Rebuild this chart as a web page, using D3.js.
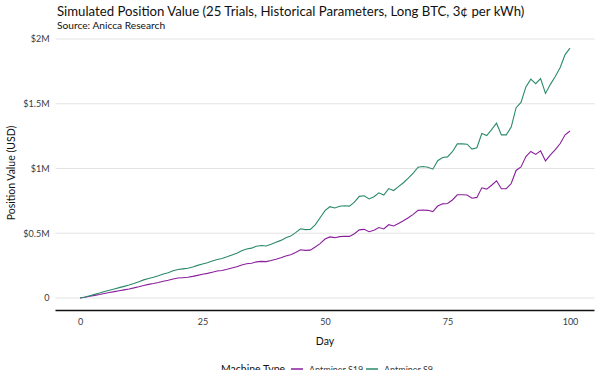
<!DOCTYPE html>
<html>
<head>
<meta charset="utf-8">
<script src="https://cdn.jsdelivr.net/npm/d3@7"></script>
<style>
  body { margin: 0; background: #fff; }
  svg { font-family: Lato, "Open Sans", sans-serif; }
</style>
</head>
<body>
<div id="chart"></div>
<script>
// values in millions of USD, one per day 0..100
var days = d3.range(0, 101);
var s9 = [
  0, 0.008, 0.018, 0.028, 0.038, 0.050, 0.060, 0.070, 0.080, 0.090,
  0.100, 0.112, 0.125, 0.140, 0.150, 0.160, 0.172, 0.185, 0.195, 0.210,
  0.220, 0.225, 0.230, 0.240, 0.252, 0.262, 0.272, 0.285, 0.298, 0.305,
  0.318, 0.332, 0.345, 0.365, 0.378, 0.385, 0.400, 0.405, 0.402, 0.415,
  0.430, 0.445, 0.465, 0.478, 0.505, 0.535, 0.528, 0.530, 0.565, 0.620,
  0.675, 0.705, 0.695, 0.708, 0.712, 0.710, 0.740, 0.785, 0.790, 0.765,
  0.782, 0.812, 0.795, 0.845, 0.830, 0.860, 0.890, 0.925, 0.965, 1.010,
  1.015, 1.010, 0.995, 1.060, 1.085, 1.090, 1.130, 1.190, 1.190, 1.188,
  1.150, 1.160, 1.270, 1.255, 1.300, 1.350, 1.260, 1.260, 1.320, 1.470,
  1.510, 1.630, 1.690, 1.655, 1.695, 1.580, 1.650, 1.710, 1.780, 1.880,
  1.930
];
var s19 = [
  0, 0.006, 0.013, 0.020, 0.027, 0.035, 0.042, 0.049, 0.056, 0.063,
  0.070, 0.078, 0.087, 0.097, 0.105, 0.112, 0.120, 0.130, 0.137, 0.147,
  0.154, 0.157, 0.160, 0.167, 0.175, 0.183, 0.190, 0.199, 0.208, 0.213,
  0.222, 0.232, 0.241, 0.255, 0.264, 0.269, 0.279, 0.283, 0.281, 0.290,
  0.300, 0.311, 0.325, 0.334, 0.352, 0.373, 0.368, 0.370, 0.394, 0.420,
  0.455, 0.472, 0.466, 0.474, 0.477, 0.476, 0.496, 0.526, 0.530, 0.512,
  0.524, 0.544, 0.533, 0.566, 0.556, 0.576, 0.596, 0.620, 0.646, 0.677,
  0.680, 0.677, 0.667, 0.710, 0.727, 0.730, 0.757, 0.797, 0.797, 0.796,
  0.771, 0.777, 0.851, 0.841, 0.871, 0.905, 0.844, 0.844, 0.884, 0.985,
  1.012, 1.092, 1.132, 1.109, 1.136, 1.059, 1.106, 1.146, 1.193, 1.260,
  1.290
];
var xTicks = [0, 25, 50, 75, 100];
var yTicks = [0, 0.5, 1, 1.5, 2];
var yLabels = ["0", "$0.5M", "$1M", "$1.5M", "$2M"];
var seriesNames = ["Antminer S19", "Antminer S9"];
var seriesColors = ["#8a1f9c", "#2b8a6a"];

(function(){
  var w = 600, h = 370;
  var pLeft = 55.5, pRight = 594.5, pTop = 35.6, pBottom = 310.5;

  var svg = d3.select("#chart").append("svg")
    .attr("width", w)
    .attr("height", h);

  var x = d3.scaleLinear().domain([-5, 105]).range([pLeft, pRight]);
  var y = d3.scaleLinear().domain([-0.0965, 2.0265]).range([pBottom, pTop]);

  // gridlines
  svg.append("g")
    .selectAll("line")
    .data(yTicks)
    .enter().append("line")
    .attr("x1", pLeft).attr("x2", pRight)
    .attr("y1", function(d){ return y(d); })
    .attr("y2", function(d){ return y(d); })
    .attr("stroke", "#e3e3e3")
    .attr("stroke-width", 1);

  // y labels
  var yAxis = d3.axisLeft(y).tickValues(yTicks)
    .tickFormat(function(d, i){ return yLabels[i]; })
    .tickSize(0).tickPadding(6);
  var gy = svg.append("g").attr("transform", "translate(" + pLeft + ",0)").call(yAxis);
  gy.select(".domain").remove();
  gy.selectAll("text").attr("fill", "#3a3a3a").style("font-size", "9px").style("font-family", "Lato");

  // x axis
  var xAxis = d3.axisBottom(x).tickValues(xTicks).tickSize(0).tickPadding(8);
  var gx = svg.append("g").attr("transform", "translate(0," + pBottom + ")").call(xAxis);
  gx.select(".domain").attr("stroke", "#111").attr("stroke-width", 1.6)
    .attr("d", "M" + pLeft + ",0H" + pRight);
  gx.selectAll("text").attr("fill", "#3a3a3a").style("font-size", "9px").style("font-family", "Lato");

  // lines
  var line = d3.line()
    .x(function(d){ return x(d[0]); })
    .y(function(d){ return y(d[1]); });

  [s19, s9].forEach(function(vals, k){
    svg.append("path")
      .datum(days.map(function(d, i){ return [d, vals[i]]; }))
      .attr("d", line)
      .attr("fill", "none")
      .attr("stroke", seriesColors[k])
      .attr("stroke-width", 1.1);
  });

  // titles
  svg.append("text").attr("x", 57).attr("y", 16)
    .style("font-size", "13.2px").attr("fill", "#111")
    .text("Simulated Position Value (25 Trials, Historical Parameters, Long BTC, 3\u00a2 per kWh)");
  svg.append("text").attr("x", 57).attr("y", 29)
    .style("font-size", "10.2px").attr("fill", "#111")
    .text("Source: Anicca Research");

  svg.append("text")
    .attr("transform", "translate(15," + ((pTop + pBottom) / 2) + ") rotate(-90)")
    .attr("text-anchor", "middle")
    .style("font-size", "10.5px").attr("fill", "#111")
    .text("Position Value (USD)");

  svg.append("text").attr("x", (pLeft + pRight) / 2).attr("y", 345)
    .attr("text-anchor", "middle")
    .style("font-size", "10.5px").attr("fill", "#111")
    .text("Day");

  // legend
  var lg = svg.append("g").attr("transform", "translate(0,373)");
  lg.append("text").attr("x", 221).attr("y", 0)
    .style("font-size", "10.5px").attr("fill", "#111").text("Machine Type");
  var keyX = [291, 366];
  seriesNames.forEach(function(n, i){
    lg.append("line").attr("x1", keyX[i]).attr("x2", keyX[i] + 12)
      .attr("y1", -4).attr("y2", -4)
      .attr("stroke", seriesColors[i]).attr("stroke-width", 1.5);
    lg.append("text").attr("x", keyX[i] + 18).attr("y", 0)
      .style("font-size", "9px").attr("fill", "#3a3a3a").text(n);
  });
})();
</script>
</body>
</html>
